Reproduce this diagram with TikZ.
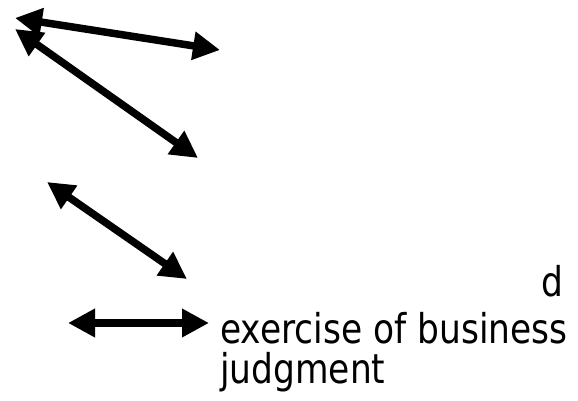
\documentclass[tikz,border=0pt]{standalone}
\usepackage{fontspec}
\newfontfamily\labelfont[FakeStretch=0.84]{DejaVu Sans}
\usetikzlibrary{arrows.meta}
\tikzset{
  dbl/.style={line width=7.5pt, {Triangle[length=27pt,width=27pt]}-{Triangle[length=27pt,width=27pt]}},
  lbl/.style={inner sep=0pt, font=\labelfont\fontsize{41}{49}\selectfont}
}
\begin{document}
\begin{tikzpicture}[x=1pt,y=-1pt]
\useasboundingbox (0,0) rectangle (578,401);
\coordinate (a0) at (15,18);
\coordinate (a1) at (220,50);
\draw[dbl] (a0) -- (a1);
\coordinate (b0) at (15,29);
\coordinate (b1) at (198,158);
\draw[dbl] (b0) -- (b1);
\coordinate (c0) at (47,182);
\coordinate (c1) at (187,279);
\draw[dbl] (c0) -- (c1);
\coordinate (d0) at (68,323);
\coordinate (d1) at (209,323);
\draw[dbl] (d0) -- (d1);
\node[lbl, anchor=base east] (txt0) at (564,296) {d};
\node[lbl, anchor=base west] (txt1) at (220,343) {exercise of business};
\node[lbl, anchor=base west] (txt2) at (220,383) {judgment};
\end{tikzpicture}
\end{document}
